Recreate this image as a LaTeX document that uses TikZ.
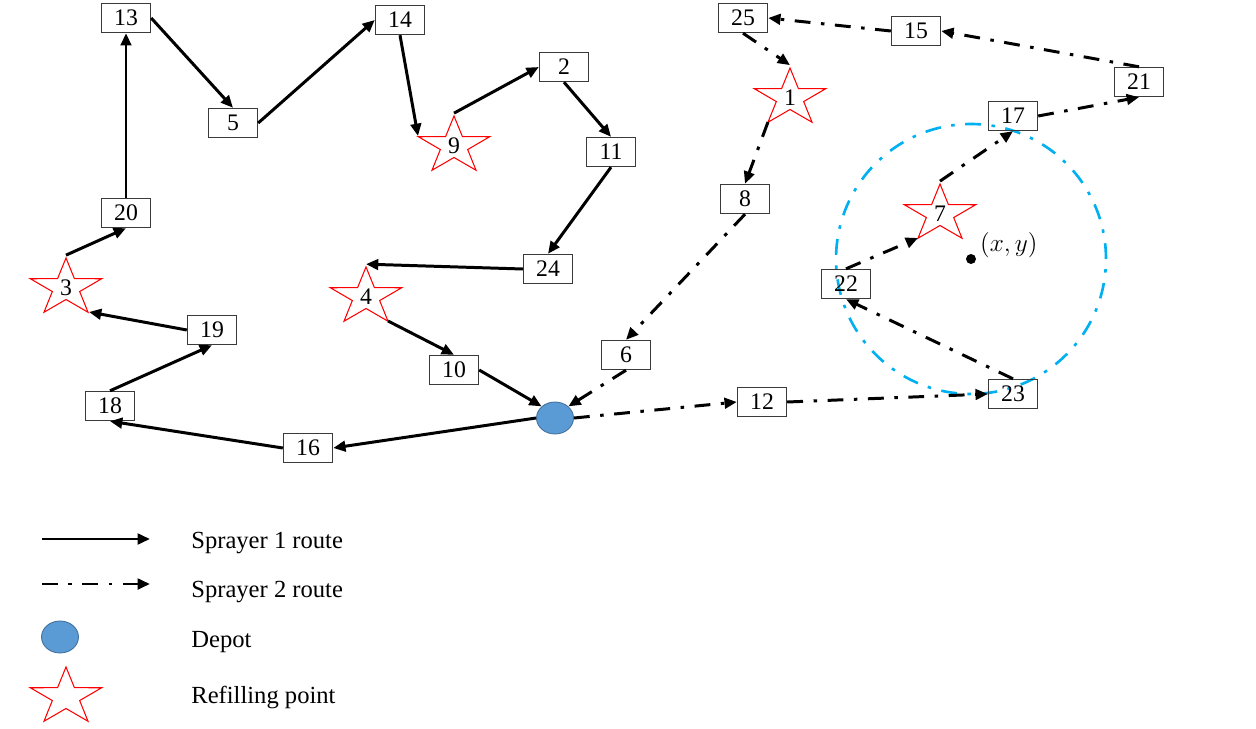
\documentclass[tikz,border=0pt]{standalone}
\usepackage{fontspec}
\setmainfont{Liberation Serif}
\usetikzlibrary{arrows.meta,calc,shapes.geometric}
\definecolor{depotfill}{HTML}{5B9BD5}
\definecolor{depotedge}{HTML}{41719C}
\definecolor{zone}{HTML}{00B0F0}
\definecolor{boxline}{HTML}{3A3A3A}

\begin{document}
\begin{tikzpicture}[x=0.02cm, y=-0.02cm,
    site/.style={draw=boxline, line width=0.8pt, minimum width=0.98cm, minimum height=0.58cm,
      inner sep=0pt, font=\fontsize{13.5}{15}\selectfont},
    refill/.style={rectangle, minimum width=1.56cm, minimum height=1.3cm, inner sep=0pt,
      font=\fontsize{13.5}{15}\selectfont},
    starline/.style={red, line width=0.6pt, line join=miter},
    depot/.style={ellipse, fill=depotfill, draw=depotedge, line width=0.5pt,
      minimum width=0.74cm, minimum height=0.64cm, inner sep=0pt},
    route1/.style={line width=1.7pt, -{Triangle[length=7pt,width=6pt]}},
    route2/.style={route1, dash pattern=on 9pt off 6pt on 2pt off 6pt},
    legtext/.style={anchor=base west, inner sep=0pt, font=\fontsize{14}{16}\selectfont}]
  \useasboundingbox (0,0) rectangle (1256,729);

  % service zone round (x,y)
  \node[circle, fill, inner sep=0pt, minimum size=0.2cm] (ctr) at (971,259) {};
  \draw[zone, line width=1.5pt, dash pattern=on 9pt off 6pt on 2pt off 6pt] (ctr) circle (2.7cm);
  \node[anchor=west, font=\fontsize{14}{16}\selectfont, inner sep=1pt] (xy) at (978,245) {$(x,y)$};

  % stops of sprayer 1
  \node[site] (b13) at (126,18) {13};
  \node[site] (b5) at (233,123) {5};
  \node[site] (b14) at (400,20) {14};
  \node[site] (b20) at (126,213) {20};
  \node[site] (b2) at (564,67) {2};
  \node[site] (b11) at (611,152) {11};
  \node[site] (b24) at (548,269) {24};
  \node[site] (b10) at (454,370) {10};
  \node[site] (b19) at (212,330) {19};
  \node[site] (b18) at (110,406) {18};
  \node[site] (b16) at (308,448) {16};
  % stops of sprayer 2
  \node[site] (b25) at (743,18) {25};
  \node[site] (b15) at (916,31) {15};
  \node[site] (b21) at (1139,82) {21};
  \node[site] (b17) at (1013,116) {17};
  \node[site] (b8) at (745,199) {8};
  \node[site] (b6) at (626,355) {6};
  \node[site] (b12) at (762,402) {12};
  \node[site] (b22) at (846,284) {22};
  \node[site] (b23) at (1013,394) {23};
  % refilling points and depot
  \node[refill] (s1) at (790,98) {1};
  \node[refill] (s3) at (66,288) {3};
  \node[refill] (s4) at (366,297) {4};
  \node[refill] (s7) at (940,214) {7};
  \node[refill] (s9) at (454,146) {9};
  \node[depot] (dep) at (555,418) {};

  % legend marks
  \coordinate (l1a) at (42,539);
  \coordinate (l1b) at (150,539);
  \coordinate (l2a) at (42,584);
  \coordinate (l2b) at (150,584);
  \node[depot] (ldep) at (60,637) {};
  \node[refill] (lstar) at (66,697) {};

  % star outlines
  \foreach \s in {s1,s3,s4,s7,s9,lstar}
    \draw[starline, shift={(\s)}, xscale=1.25]
      (90:0.6cm) -- (126:0.23cm) -- (162:0.6cm) -- (198:0.23cm) -- (234:0.6cm)
      -- (270:0.23cm) -- (306:0.6cm) -- (342:0.23cm) -- (18:0.6cm) -- (54:0.23cm) -- cycle;

  % sprayer 1 route
  \draw[route1] (dep.west) -- (b16.east);
  \draw[route1] (b16.west) -- (b18.south);
  \draw[route1] (b18.north) -- (b19.south);
  \draw[route1] (b19.west) -- ($(s3)+(23,24)$);
  \draw[route1] (s3.north) -- (b20.south);
  \draw[route1] (b20.north) -- (b13.south);
  \draw[route1] (b13.east) -- (b5.north);
  \draw[route1] (b5.east) -- (b14.west);
  \draw[route1] (b14.south) -- ($(s9)+(-36,-10)$);
  \draw[route1] (s9.north) -- (b2.west);
  \draw[route1] (b2.south) -- (b11.north);
  \draw[route1] (b11.south) -- (b24.north);
  \draw[route1] (b24.west) -- (s4.north);
  \draw[route1] ($(s4)+(22,24)$) -- (b10.north);
  \draw[route1] (b10.east) -- (dep.north west);

  % sprayer 2 route
  \draw[route2] (dep.east) -- (b12.west);
  \draw[route2] (b12.east) -- (b23.west);
  \draw[route2] (b23.north) -- (b22.south);
  \draw[route2] (b22.north) -- ($(s7)+(-22,24)$);
  \draw[route2] (s7.north) -- (b17.south);
  \draw[route2] (b17.east) -- (b21.south);
  \draw[route2] (b21.north) -- (b15.east);
  \draw[route2] (b15.west) -- (b25.east);
  \draw[route2] (b25.south) -- (s1.north);
  \draw[route2] ($(s1)+(-22,24)$) -- (b8.north);
  \draw[route2] (b8.south) -- (b6.north);
  \draw[route2] (b6.south) -- (dep.north east);

  % legend
  \draw[route1] (l1a) -- (l1b);
  \draw[route2] (l2a) -- (l2b);
  \node[legtext] (t1) at (191,548) {Sprayer 1 route};
  \node[legtext] (t2) at (191,597) {Sprayer 2 route};
  \node[legtext] (t3) at (191,647) {Depot};
  \node[legtext] (t4) at (191,703) {Refilling point};
\end{tikzpicture}
\end{document}
